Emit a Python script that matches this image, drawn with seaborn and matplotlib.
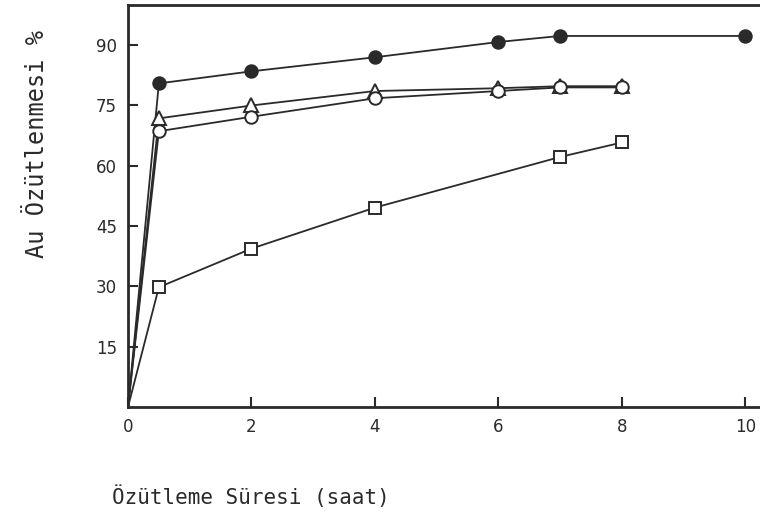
import matplotlib
matplotlib.use("Agg")
import matplotlib.pyplot as plt
import seaborn as sns
import pandas as pd

# Data
t_filled = [0, 0.5, 2, 4, 6, 7, 10]
y_filled = [0, 80.5, 83.5, 87, 90.8, 92.3, 92.3]
t_tri = [0, 0.5, 2, 4, 6, 7, 8]
y_tri = [0, 71.8, 75, 78.6, 79.3, 79.8, 79.8]
t_open = [0, 0.5, 2, 4, 6, 7, 8]
y_open = [0, 68.6, 72.2, 76.8, 78.6, 79.5, 79.5]
t_sq = [0, 0.5, 2, 4, 7, 8]
y_sq = [0, 29.8, 39.4, 49.6, 62.2, 65.8]

x_ticks = [0, 2, 4, 6, 8, 10]
y_ticks = [15, 30, 45, 60, 75, 90]

sns.set_theme(style="white")
plt.rcParams['font.family'] = ['DejaVu Sans']

fig = plt.figure(figsize=(7.6, 5.22), dpi=100)
ax = fig.add_axes([128/760, 1-407/522, 1-128/760 + 0.01, (407-5)/522])

ink = "#2a2a2a"
series = [
    (t_filled, y_filled, "o", ink, 9),
    (t_tri, y_tri, "^", "white", 10),
    (t_open, y_open, "o", "white", 9),
    (t_sq, y_sq, "s", "white", 8.5),
]
for t, y, m, fc, ms in series:
    df = pd.DataFrame({"t": t, "y": y})
    sns.lineplot(data=df, x="t", y="y", ax=ax, color=ink, lw=1.3,
                 marker=m, markersize=ms, markerfacecolor=fc,
                 markeredgecolor=ink, markeredgewidth=1.4, zorder=3)
for line in ax.lines:
    line.set_markevery(list(range(1, len(line.get_xdata()))))

ax.set_xlim(0, 10.36)
ax.set_ylim(0, 100)
ax.set_xticks(x_ticks)
ax.set_yticks(y_ticks)
ax.set_xticklabels([str(v) for v in x_ticks], fontsize=12, color=ink)
ax.set_yticklabels([str(v) for v in y_ticks], fontsize=12, color=ink)
ax.tick_params(axis="both", direction="in", length=7, width=1.5, color=ink,
               bottom=True, left=True, pad=8)
ax.set_xlabel("")
ax.set_ylabel("")
for s in ["left", "bottom", "top"]:
    ax.spines[s].set_visible(True)
    ax.spines[s].set_color(ink)
    ax.spines[s].set_linewidth(2)
ax.spines["right"].set_visible(False)
ax.grid(False)

fig.text(112/760, 1-497/522, "Özütleme Süresi (saat)", fontsize=15,
         family="DejaVu Sans Mono", color=ink, ha="left", va="center")
fig.text(37/760, 1-144/522, "Au Özütlenmesi %", fontsize=17,
         family="DejaVu Sans Mono", color=ink, rotation=90,
         ha="center", va="center")

fig.savefig("out.png", dpi=100)
